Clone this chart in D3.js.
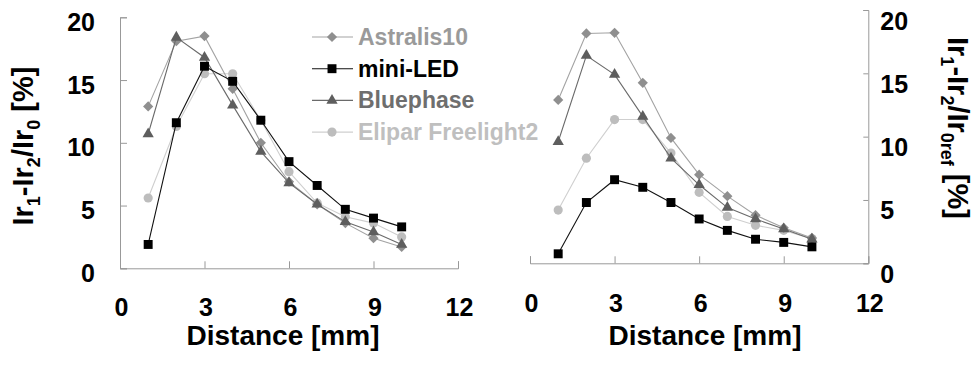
<!DOCTYPE html>
<html>
<head>
<meta charset="utf-8">
<script src="https://cdn.jsdelivr.net/npm/d3@7"></script>
<style>
  body { margin: 0; background: #fff; }
  svg { display: block; font-family: "Liberation Sans", Arial, sans-serif; font-weight: bold; }
</style>
</head>
<body>
<svg id="chart" width="975" height="374"></svg>
<script>
// distances (mm)
const distances = [1, 2, 3, 4, 5, 6, 7, 8, 9, 10];
const xTicks = [0, 3, 6, 9, 12];
const yTicks = [0, 5, 10, 15, 20];

// left panel: Ir1-Ir2/Ir0 [%]
const leftAstralis = [12.9, 18.1, 18.5, 14.3, 10.0, 6.9, 5.1, 3.6, 2.4, 1.7];
const leftMiniLed = [1.9, 11.6, 16.1, 14.9, 11.8, 8.5, 6.6, 4.7, 4.0, 3.3];
const leftBluephase = [10.7, 18.4, 16.8, 13.0, 9.3, 6.8, 5.1, 3.7, 2.9, 1.9];
const leftElipar = [5.6, 11.3, 15.5, 15.5, 11.8, 7.7, 5.2, 4.1, 3.6, 2.5];

// right panel: Ir1-Ir2/Ir0ref [%]
const rightAstralis = [12.9, 18.15, 18.2, 14.25, 9.9, 7.0, 5.3, 3.8, 2.8, 2.0];
const rightMiniLed = [0.75, 4.8, 6.6, 6.0, 4.8, 3.5, 2.6, 1.9, 1.65, 1.3];
const rightBluephase = [9.6, 16.4, 14.9, 11.6, 8.3, 6.2, 4.4, 3.5, 2.7, 1.9];
const rightElipar = [4.2, 8.3, 11.35, 11.35, 8.7, 5.6, 3.7, 3.0, 2.6, 1.95];

const seriesNames = ["Astralis10", "mini-LED", "Bluephase", "Elipar Freelight2"];

const styles = {
  "Astralis10": { line: "#a3a3a3", fill: "#8f8f8f", text: "#9a9a9a", shape: "diamond" },
  "mini-LED": { line: "#111", fill: "#000", text: "#000", shape: "square" },
  "Bluephase": { line: "#6a6a6a", fill: "#5e5e5e", text: "#6e6e6e", shape: "triangle" },
  "Elipar Freelight2": { line: "#cfcfcf", fill: "#bdbdbd", text: "#bfbfbf", shape: "circle" }
};

// draw order (last on top)
const drawOrder = ["Elipar Freelight2", "Astralis10", "Bluephase", "mini-LED"];

const svg = d3.select("#chart");

function symbolPath(shape) {
  if (shape === "square") return d3.symbol(d3.symbolSquare, 80)();
  if (shape === "diamond") return d3.symbol(d3.symbolSquare, 52)();
  if (shape === "triangle") return d3.symbol(d3.symbolTriangle, 55)();
  return d3.symbol(d3.symbolCircle, 66)();
}

function drawMarker(g, name, x, y) {
  const st = styles[name];
  g.append("path")
    .attr("d", symbolPath(st.shape))
    .attr("transform", `translate(${x},${y})` + (st.shape === "diamond" ? " rotate(45)" : ""))
    .attr("fill", st.fill);
}

function panel(opts) {
  const x = d3.scaleLinear().domain([0, 12]).range([opts.x0, opts.x1]);
  const y = d3.scaleLinear().domain([0, 20]).range([opts.y0, opts.y1]);
  const g = svg.append("g");

  // x axis
  const xa = g.append("g")
    .attr("transform", `translate(0,${opts.y0})`)
    .call(d3.axisBottom(x).tickValues(xTicks).tickSizeInner(-7).tickSizeOuter(-7));
  xa.selectAll("text")
    .attr("y", opts.xLabelY)
    .attr("dy", 0)
    .attr("dx", 1)
    .style("font-size", "25px")
    .style("font-weight", "bold")
    .style("font-family", "Liberation Sans, Arial, sans-serif")
    .attr("fill", "#000");

  // y axis
  const axisFn = opts.side === "left" ? d3.axisLeft : d3.axisRight;
  const ya = g.append("g")
    .attr("transform", `translate(${opts.side === "left" ? opts.x0 : opts.x1},0)`)
    .call(axisFn(y).tickValues(yTicks).tickSizeInner(opts.side === "left" ? -7 : -5).tickSizeOuter(opts.side === "left" ? -7 : -5));
  ya.selectAll("text")
    .attr("x", opts.yLabelX)
    .attr("dy", "0.36em")
    .attr("y", opts.yLabelDy)
    .style("font-size", "25px")
    .style("font-weight", "bold")
    .style("font-family", "Liberation Sans, Arial, sans-serif")
    .attr("fill", "#000");

  g.selectAll(".domain, .tick line").attr("stroke", "#999");

  // series
  const line = d3.line().x((d, i) => x(distances[i])).y(d => y(d));
  drawOrder.forEach(name => {
    const vals = opts.data[name];
    g.append("path")
      .datum(vals)
      .attr("d", line)
      .attr("fill", "none")
      .attr("stroke", styles[name].line)
      .attr("stroke-width", 1.1);
    vals.forEach((v, i) => drawMarker(g, name, x(distances[i]), y(v)));
  });

  // x title
  g.append("text")
    .attr("x", opts.xTitleX)
    .attr("y", 345)
    .attr("text-anchor", "middle")
    .style("font-size", "28px")
    .text("Distance [mm]");
}

panel({
  x0: 120, x1: 458, y0: 268.3, y1: 17.3, side: "left",
  xLabelY: 48, yLabelX: -25, yLabelDy: 4, xTitleX: 283,
  data: {
    "Astralis10": leftAstralis, "mini-LED": leftMiniLed,
    "Bluephase": leftBluephase, "Elipar Freelight2": leftElipar
  }
});

panel({
  x0: 530, x1: 868.3, y0: 263.3, y1: 10, side: "right",
  xLabelY: 49, yLabelX: 12, yLabelDy: 10, xTitleX: 705,
  data: {
    "Astralis10": rightAstralis, "mini-LED": rightMiniLed,
    "Bluephase": rightBluephase, "Elipar Freelight2": rightElipar
  }
});

// y titles with subscripts
function yTitle(tx, ty, angle, sub0) {
  const t = svg.append("text")
    .attr("transform", `translate(${tx},${ty}) rotate(${angle})`)
    .attr("text-anchor", "middle")
    .style("font-size", "29px");
  const parts = [["Ir", false], ["1", true], ["-Ir", false], ["2", true], ["/Ir", false], [sub0, true], [" [%]", false]];
  parts.forEach(([s, sub], i) => {
    const ts = t.append("tspan").text(s);
    if (sub) ts.style("font-size", "18px").attr("dy", 7);
    else if (i > 0 && parts[i - 1][1]) ts.attr("dy", -7);
  });
}
yTitle(33, 146, -90, "0");
yTitle(948, 128, 90, "0ref");

// legend
const legend = svg.append("g");
seriesNames.forEach((name, i) => {
  const ly = 37 + i * 31.7;
  legend.append("line")
    .attr("x1", 312).attr("x2", 353)
    .attr("y1", ly).attr("y2", ly)
    .attr("stroke", styles[name].line)
    .attr("stroke-width", 1.1);
  drawMarker(legend, name, 332, ly);
  legend.append("text")
    .attr("x", 358)
    .attr("y", ly + 8)
    .attr("fill", styles[name].text)
    .style("font-size", "23px")
    .text(name);
});
</script>
</body>
</html>
